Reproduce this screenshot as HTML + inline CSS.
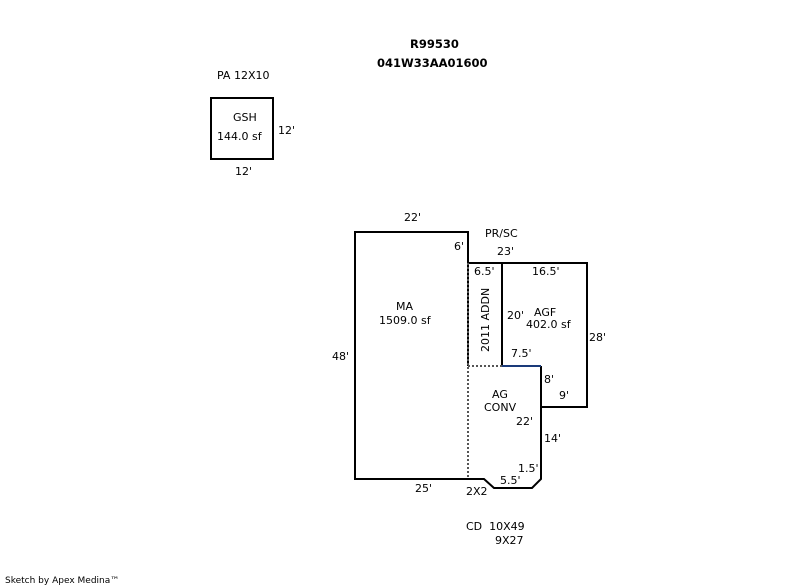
<!DOCTYPE html>
<html><head><meta charset="utf-8"><style>
html,body{margin:0;padding:0;background:#fff;}
svg{display:block;}
text{font-family:"DejaVu Sans","Liberation Sans",sans-serif;font-size:11px;fill:#000;}
.b{font-weight:bold;font-size:11.5px;}
</style></head><body>
<svg width="800" height="587" viewBox="0 0 800 587" xmlns="http://www.w3.org/2000/svg">
<text x="410" y="48" class="b">R99530</text>
<text x="377" y="67" class="b">041W33AA01600</text>
<text x="217" y="79">PA 12X10</text>
<rect x="211" y="98" width="62" height="61" fill="none" stroke="#000" stroke-width="2"/>
<text x="233" y="121">GSH</text>
<text x="217" y="140">144.0 sf</text>
<text x="278" y="134">12'</text>
<text x="235" y="175">12'</text>

<g fill="none" stroke="#000" stroke-width="2">
<path d="M468,366 L468,232 L355,232 L355,479 L484,479 L494,488 L532,488 L541,479 L541,407 L587,407 L587,263 L468,263"/>
<path d="M502,263 L502,366"/>
<path d="M541,366 L541,407"/>
</g>
<path d="M502,366 L541,366" stroke="#1a3a7a" stroke-width="2"/>
<g stroke="#555" stroke-width="2" stroke-dasharray="2,2">
<path d="M468,263 L468,479"/>
<path d="M468,366 L502,366"/>
</g>

<text x="404" y="221">22'</text>
<text x="454" y="250">6'</text>
<text x="485" y="237">PR/SC</text>
<text x="497" y="255">23'</text>
<text x="474" y="275">6.5'</text>
<text x="532" y="275">16.5'</text>
<text x="396" y="310">MA</text>
<text x="379" y="324">1509.0 sf</text>
<text x="534" y="316">AGF</text>
<text x="526" y="328">402.0 sf</text>
<text x="507" y="319">20'</text>
<text x="589" y="341">28'</text>
<text x="332" y="360">48'</text>
<text x="511" y="357">7.5'</text>
<text x="544" y="383">8'</text>
<text x="559" y="399">9'</text>
<text x="492" y="398">AG</text>
<text x="484" y="411">CONV</text>
<text x="516" y="425">22'</text>
<text x="544" y="442">14'</text>
<text x="518" y="472">1.5'</text>
<text x="500" y="484">5.5'</text>
<text x="415" y="492">25'</text>
<text x="466" y="495">2X2</text>
<text transform="translate(489,352) rotate(-90)">2011 ADDN</text>
<text x="466" y="530">CD&#160; 10X49</text>
<text x="495" y="544">9X27</text>
<text x="5" y="583" style="font-size:9px">Sketch by Apex Medina™</text>
</svg>
</body></html>
